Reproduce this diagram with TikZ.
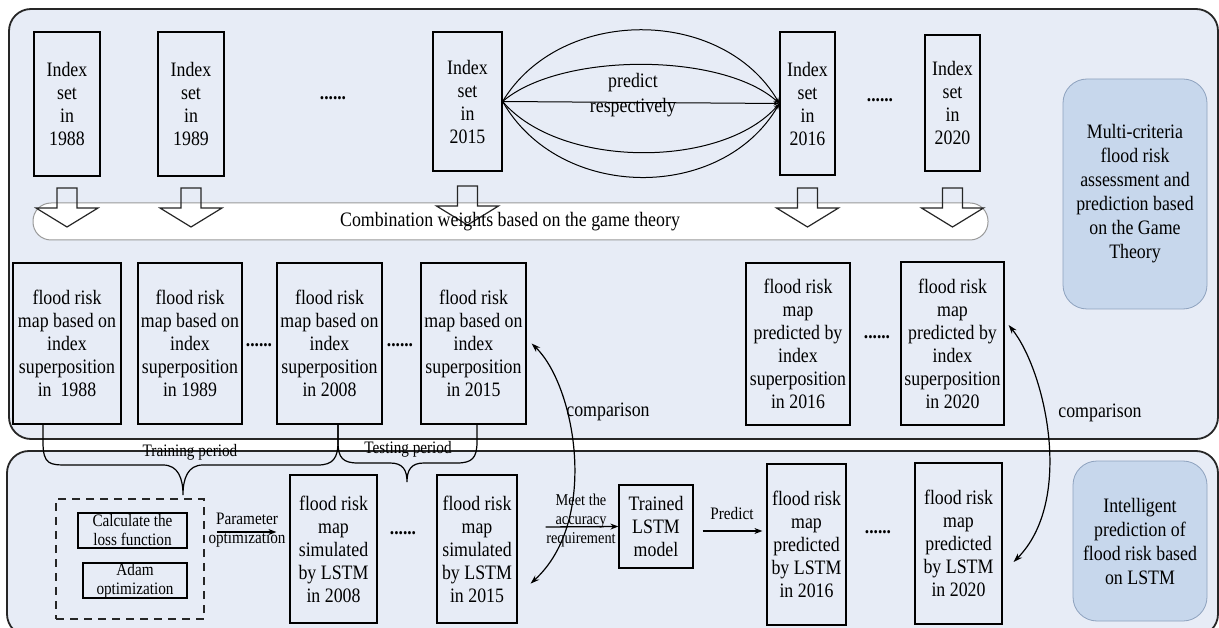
\documentclass[tikz,border=0pt]{standalone}
\usepackage{fontspec}
\setmainfont{Liberation Serif}[FakeStretch=0.87]
\usetikzlibrary{arrows.meta,calc}
\definecolor{panel}{HTML}{E7ECF6}
\definecolor{lab}{HTML}{C7D7EC}
\definecolor{labline}{HTML}{8EA2BE}
\definecolor{barline}{HTML}{9A9A9A}
\begin{document}
\begin{tikzpicture}[x=1pt,y=-1pt,
  every node/.style={font=\fontsize{20.5}{23}\selectfont},
  box/.style={draw=black,line width=1.2pt,fill=panel,inner sep=0pt,align=center},
  small/.style={font=\fontsize{17.5}{19}\selectfont,align=center,inner sep=0pt},
  lbl/.style={draw=labline,line width=0.8pt,fill=lab,rounded corners=24pt,inner sep=0pt,align=center,font=\fontsize{20.5}{24}\selectfont},
  arr/.style={line width=1.3pt,-{Stealth[length=8pt,width=6pt]}},
  dots/.style={font=\fontsize{20}{20}\selectfont\bfseries,inner sep=0pt},
  blk/.style={draw=black!85,line width=1.2pt},
  panelbox/.style={fill=panel,line width=1.8pt,draw=black!85,rounded corners=22pt},
  brace/.style={line width=1.2pt},
  cmp/.style={line width=1.2pt,{Stealth[length=9pt,width=6pt]}-{Stealth[length=9pt,width=6pt]}},
  lens/.style={line width=1pt,-{Stealth[length=6pt,width=4pt]}},
  blockdown/.pic={\draw[blk] (-10,0) -- (10,0) -- (10,20) -- (31,20) -- (0,39) -- (-31,20) -- (-10,20) -- cycle;}
]
\useasboundingbox (0,0) rectangle (1219,628);
\fill[white] (0,0) rectangle (1219,628);
\draw[panelbox] (9,9) rectangle (1218,439);
\draw[panelbox] (7,451) rectangle (1218,636);

% Index boxes
\node[box,minimum width=66,minimum height=144] (i88) at (67,104) {Index\\set\\in\\1988};
\node[box,minimum width=66,minimum height=144] (i89) at (191,104) {Index\\set\\in\\1989};
\node[box,minimum width=69,minimum height=139] (i15) at (467.5,101.5) {Index\\set\\in\\2015};
\node[box,minimum width=55,minimum height=143] (i16) at (807.5,103.5) {Index\\set\\in\\2016};
\node[box,minimum width=55,minimum height=136] (i20) at (952.5,103) {Index\\set\\in\\2020};
\node[dots] (d1) at (333,98) {......};
\node[dots] (d2) at (880,100) {......};

% lens of predictions
\foreach \c in {6,52,169,202}
  \draw[lens] (i15.east) .. controls (560,\c) and (722,\c) .. (i16.west);
\draw[lens] (i15.east) -- (i16.west);
\node (pr1) at (633,83) {predict};
\node (pr2) at (633,108) {respectively};

% combination bar and block arrows
\draw[barline,fill=white,line width=1pt,rounded corners=18pt] (33,203) rectangle (988,240);
\pic at (i88.south |- 0,188) {blockdown};
\pic at (i89.south |- 0,188) {blockdown};
\pic at (i15.south |- 0,186) {blockdown};
\pic at (i16.south |- 0,188) {blockdown};
\pic at (i20.south |- 0,188) {blockdown};
\node (bar) at (510,222) {Combination weights based on the game theory};

% flood risk maps
\node[box,minimum width=108,minimum height=161] (f88) at (67,343.5) {flood risk\\map based on\\index\\superposition\\in\ \ 1988};
\node[box,minimum width=104,minimum height=161] (f89) at (190,343.5) {flood risk\\map based on\\index\\superposition\\in 1989};
\node[box,minimum width=105,minimum height=161] (f08) at (329.5,343.5) {flood risk\\map based on\\index\\superposition\\in 2008};
\node[box,minimum width=105,minimum height=161] (f15) at (473.5,343.5) {flood risk\\map based on\\index\\superposition\\in 2015};
\node[box,minimum width=104,minimum height=162] (p16) at (798,344) {flood risk\\map\\predicted by\\index\\superposition\\in 2016};
\node[box,minimum width=103,minimum height=163] (p20) at (952.5,343.5) {flood risk\\map\\predicted by\\index\\superposition\\in 2020};
\node[dots] (d3) at (259,345) {......};
\node[dots] (d4) at (400,345) {......};
\node[dots] (d5) at (877,337) {......};

% labels right
\node[lbl,minimum width=144,minimum height=230] (L1) at (1135,194) {Multi-criteria\\flood risk\\assessment and\\prediction based\\on the Game\\Theory};
\node[lbl,minimum width=134,minimum height=160] (L2) at (1140,541) {Intelligent\\prediction of\\flood risk based\\on LSTM};

% braces
\draw[brace] ($(f88.south)+(-24,0)$) -- (43,442) .. controls (43,465) and (50,465) .. (68,465) -- (163,465)
  .. controls (178,465) and (183,478) .. (183,495) .. controls (183,478) and (188,465) .. (203,465)
  -- (318,465) .. controls (333,465) and (338,458) .. (338,442) -- ($(f08.south)+(8.5,0)$);
\draw[brace] ($(f08.south)+(8.5,0)$) -- (338,442) .. controls (338,458) and (343,463) .. (358,463) -- (390,463)
  .. controls (403,463) and (407,470) .. (407,482) .. controls (407,470) and (411,463) .. (424,463)
  -- (457,463) .. controls (472,463) and (477,458) .. (477,442) -- ($(f15.south)+(3.5,0)$);
\node[small] (trp) at (190,452) {Training period};
\node[small] (tep) at (408,449) {Testing period};

% bottom row
\node[draw=black!85,line width=1.5pt,dash pattern=on 8pt off 6pt,minimum width=148,minimum height=120,inner sep=0pt] (dash) at (130,559) {};
\node[box,font=\fontsize{17.5}{19}\selectfont,minimum width=109,minimum height=35] (calc) at (132.5,530.5) {Calculate the\\loss function};
\node[box,font=\fontsize{17.5}{19}\selectfont,minimum width=104,minimum height=35] (adam) at (135,580.5) {Adam\\optimization};

\node[box,minimum width=87,minimum height=148] (l08) at (333.5,549) {flood risk\\map\\simulated\\by LSTM\\in 2008};
\node[box,minimum width=80,minimum height=148] (l15) at (477,549) {flood risk\\map\\simulated\\by LSTM\\in 2015};
\node[box,minimum width=74,minimum height=83] (t) at (656,526.5) {Trained\\LSTM\\model};
\node[box,minimum width=79,minimum height=161] (l16) at (806.5,544.5) {flood risk\\map\\predicted\\by LSTM\\in 2016};
\node[box,minimum width=87,minimum height=161] (l20) at (958.5,543.5) {flood risk\\map\\predicted\\by LSTM\\in 2020};
\node[dots] (d6) at (403,533) {......};
\node[dots] (d7) at (878,532) {......};

\draw[arr] ($(dash.east)+(12,-27)$) -- ($(l08.west)+(-13,-17)$);
\node[small] (po) at (247,530) {Parameter\\optimization};

\draw[arr] ($(l15.east)+(28,-22)$) -- (t.west);
\node[small,font=\fontsize{16.5}{19}\selectfont] (meet) at (581,521) {Meet the\\accuracy\\requirement};

\draw[arr] ($(t.east)+(9,4.5)$) -- ($(l16.west)+(-4,-13.5)$);
\node[small] (pd) at (732,514) {Predict};

% comparison arrows
\draw[cmp] ($(f15.east)+(5,0)$) .. controls (575,385) and (600,520) .. ($(l15.south east)+(13,-40)$);
\node (c1) at (608,412) {comparison};
\draw[cmp] ($(p20.east)+(4,-18.5)$) .. controls (1045,370) and (1075,500) .. ($(l20.east)+(11,18.5)$);
\node (c2) at (1100,413) {comparison};
\end{tikzpicture}
\end{document}
